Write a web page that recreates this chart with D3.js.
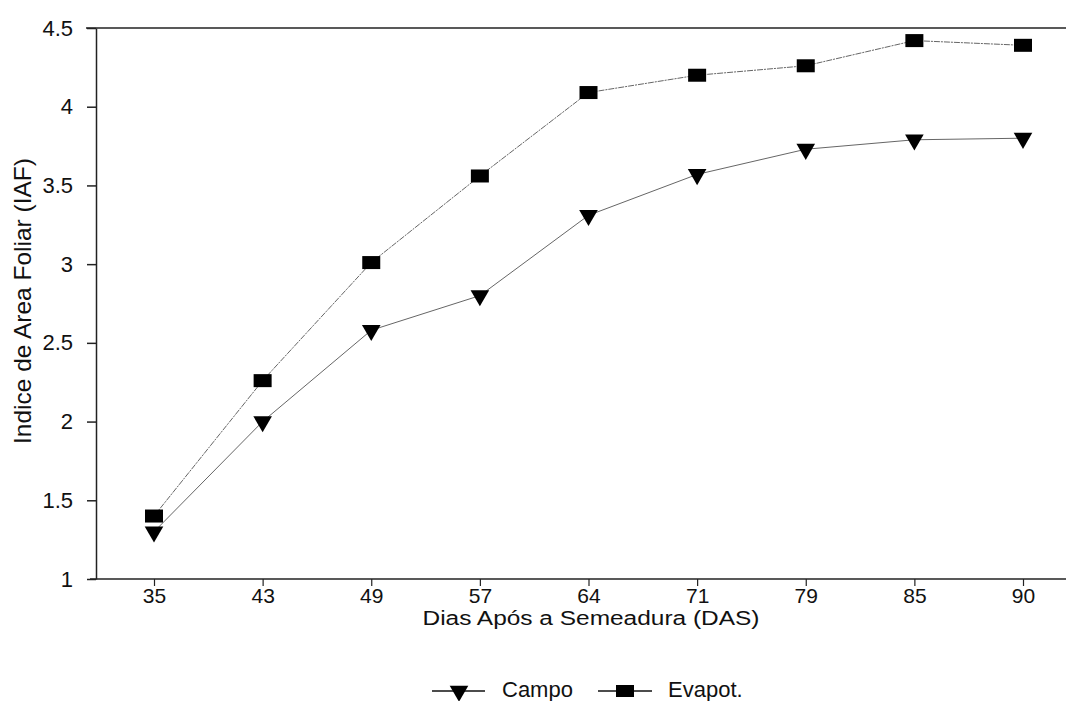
<!DOCTYPE html>
<html>
<head>
<meta charset="utf-8">
<script src="https://cdn.jsdelivr.net/npm/d3@7"></script>
<style>
  body { margin: 0; background: #fff; }
  text { font-family: "Liberation Sans", Arial, sans-serif; fill: #111; }
</style>
</head>
<body>
<script>
// data
var dias = [35, 43, 49, 57, 64, 71, 79, 85, 90];
var campo = [1.30, 2.00, 2.58, 2.80, 3.31, 3.57, 3.73, 3.79, 3.80];
var evapot = [1.40, 2.26, 3.01, 3.56, 4.09, 4.20, 4.26, 4.42, 4.39];
var yTicks = [1, 1.5, 2, 2.5, 3, 3.5, 4, 4.5];

var width = 1066, height = 701;
var plotLeft = 96, plotRight = 1066, plotTop = 28, plotBottom = 579;

var svg = d3.select("body").append("svg")
    .attr("width", width)
    .attr("height", height);

var x = d3.scalePoint()
    .domain(dias)
    .range([154, 1023]);

var y = d3.scaleLinear()
    .domain([1, 4.5])
    .range([plotBottom, plotTop]);

// frame: top line + axes
svg.append("line")
    .attr("x1", 86).attr("x2", plotRight)
    .attr("y1", plotTop).attr("y2", plotTop)
    .attr("stroke", "#222").attr("stroke-width", 1.5);

var yAxis = svg.append("g")
    .attr("transform", "translate(" + plotLeft + ",0)")
    .call(d3.axisLeft(y).tickValues(yTicks).tickSize(9).tickPadding(14)
      .tickSizeOuter(0)
      .tickFormat(d => d3.format("~g")(d)));
yAxis.select(".domain").attr("stroke", "#222").attr("stroke-width", 1.5);
yAxis.selectAll(".tick line").attr("stroke", "#222").attr("stroke-width", 1.5);
yAxis.selectAll("text").style("font-size", "22px").attr("fill", "#111");

var xAxis = svg.append("g")
    .attr("transform", "translate(0," + plotBottom + ")")
    .call(d3.axisBottom(x).tickSize(7).tickPadding(2).tickSizeOuter(0));
xAxis.select(".domain").remove();
xAxis.append("line")
    .attr("x1", 90).attr("x2", plotRight)
    .attr("stroke", "#222").attr("stroke-width", 1.5);
xAxis.selectAll(".tick line").attr("stroke", "#222").attr("stroke-width", 1.2);
xAxis.selectAll("text").style("font-size", "21px").attr("fill", "#111");

// axis titles
svg.append("text")
    .attr("x", 591).attr("y", 625)
    .attr("text-anchor", "middle")
    .attr("textLength", 337)
    .attr("lengthAdjust", "spacingAndGlyphs")
    .style("font-size", "20px")
    .text("Dias Após a Semeadura (DAS)");

svg.append("text")
    .attr("transform", "translate(31,301) rotate(-90)")
    .attr("text-anchor", "middle")
    .attr("textLength", 286)
    .attr("lengthAdjust", "spacingAndGlyphs")
    .style("font-size", "24px")
    .text("Indice de Area Foliar (IAF)");

// series
var line = d3.line()
    .x((d, i) => x(dias[i]))
    .y(d => y(d));

var tri = d3.symbol().type(d3.symbolTriangle).size(150);

function drawSeries(vals, kind) {
  svg.append("path")
      .datum(vals)
      .attr("d", line)
      .attr("fill", "none")
      .attr("stroke", "#666")
      .attr("stroke-width", 1)
      .attr("stroke-dasharray", kind == "sq" ? "6,1,2,1" : null);

  var g = svg.append("g");
  vals.forEach(function(v, i) {
    var cx = x(dias[i]), cy = y(v);
    if (kind == "sq") {
      g.append("rect")
          .attr("x", cx - 9).attr("y", cy - 6.5)
          .attr("width", 18).attr("height", 13)
          .attr("fill", "#000");
    } else {
      g.append("path")
          .attr("d", tri)
          .attr("transform", "translate(" + cx + "," + cy + ") rotate(180)")
          .attr("fill", "#000");
    }
  });
}

drawSeries(campo, "tri");
drawSeries(evapot, "sq");

// legend
var legend = svg.append("g");
legend.append("line")
    .attr("x1", 432).attr("x2", 485).attr("y1", 691).attr("y2", 691)
    .attr("stroke", "#111").attr("stroke-width", 1.5);
legend.append("path")
    .attr("d", tri)
    .attr("transform", "translate(459,691) rotate(180)")
    .attr("fill", "#000");
legend.append("text")
    .attr("x", 502).attr("y", 697)
    .style("font-size", "22px")
    .text("Campo");

legend.append("line")
    .attr("x1", 598).attr("x2", 652).attr("y1", 691).attr("y2", 691)
    .attr("stroke", "#111").attr("stroke-width", 1.5);
legend.append("rect")
    .attr("x", 616).attr("y", 685)
    .attr("width", 18).attr("height", 12)
    .attr("fill", "#000");
legend.append("text")
    .attr("x", 668).attr("y", 697)
    .style("font-size", "22px")
    .text("Evapot.");
</script>
</body>
</html>
